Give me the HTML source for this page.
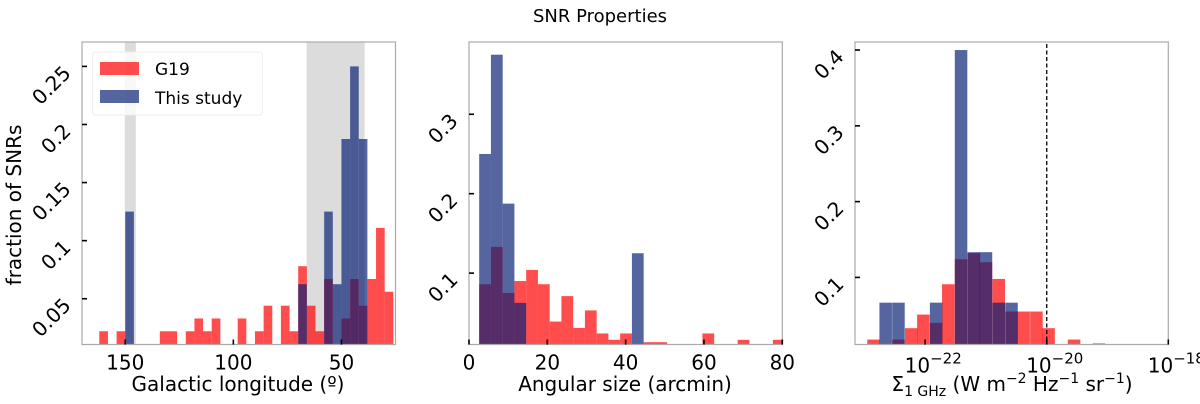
<!DOCTYPE html>
<html><head><meta charset="utf-8"><style>
html,body{margin:0;padding:0;background:#fff;}
svg{display:block;font-family:"DejaVu Sans","Liberation Sans",sans-serif;}
</style></head><body>
<svg id="fig" width="1200" height="404" viewBox="0 0 1200 404" xmlns="http://www.w3.org/2000/svg">
<text x="600" y="22" font-size="18" text-anchor="middle">SNR Properties</text>
<g id="p1"></g>
<g id="p2"></g>
<g id="p3"></g>
</svg>
<script>
// Panel 1: Galactic longitude (bin width 4 deg), values are fractions
const lonBinWidth = 4;
const lonRedCenters = [168,160,156,152,132,128,120,116,112,108,104,100,96,92,88,84,80,76,72,68,64,60,56,48,44,40,36,32,28];
const lonRedValues  = [0.011,0.022,0.011,0.022,0.022,0.022,0.022,0.033,0.022,0.033,0.011,0.011,0.033,0.011,0.022,0.044,0.011,0.044,0.022,0.078,0.044,0.022,0.067,0.033,0.067,0.044,0.067,0.111,0.056];
const lonBlueCenters = [148,68,56,52,48,44,40];
const lonBlueValues  = [0.125,0.0625,0.125,0.0625,0.1875,0.25,0.1875];
const lonSpans = [[150.2,145.1],[66.1,39.3]];
const lonTicks = [150,100,50];
const lonTickLabels = ["150","100","50"];
const p1YTicks = [0.05,0.1,0.15,0.2,0.25];
const p1YTickLabels = ["0.05","0.1","0.15","0.2","0.25"];

// Panel 2: Angular size (bin width 3 arcmin)
const sizeBinWidth = 3;
const sizeRedCenters = [4.1,7.1,10.1,13.1,16.1,19.1,22.1,25.1,28.1,31.1,34.1,37.1,40.1,46.1,49.1,61.1,70.1,79.1];
const sizeRedValues  = [0.086,0.133,0.075,0.09,0.104,0.086,0.039,0.071,0.031,0.053,0.024,0.016,0.024,0.013,0.013,0.024,0.016,0.016];
const sizeBlueCenters = [4.1,7.1,10.1,13.1,43.1];
const sizeBlueValues  = [0.25,0.375,0.1875,0.0625,0.125];
const sizeTicks = [0,20,40,60,80];
const sizeTickLabels = ["0","20","40","60","80"];
const p2YTicks = [0.1,0.2,0.3];
const p2YTickLabels = ["0.1","0.2","0.3"];

// Panel 3: log10 surface brightness (bin width 0.206 dex)
const sbBinWidth = 0.206;
const sbRedCenters = [-22.85,-22.44,-22.23,-22.03,-21.82,-21.62,-21.41,-21.2,-21.0,-20.79,-20.58,-20.38,-20.17,-19.97,-19.76,-19.55,-19.14];
const sbRedValues  = [0.018,0.018,0.033,0.051,0.04,0.091,0.124,0.132,0.12,0.098,0.055,0.055,0.055,0.033,0.012,0.018,0.013];
const sbBlueCenters = [-22.65,-22.44,-21.82,-21.41,-21.2,-21.0,-20.79,-20.58];
const sbBlueValues  = [0.0667,0.0667,0.0667,0.4,0.1333,0.1333,0.0667,0.0667];
const sbTicks = [-22,-20,-18];
const sbTickExps = ["\u221222","\u221220","\u221218"];
const sbThreshold = -20;
const p3YTicks = [0.1,0.2,0.3,0.4];
const p3YTickLabels = ["0.1","0.2","0.3","0.4"];

const NS = "http://www.w3.org/2000/svg";
function mk(parent, tag, attrs){ const e=document.createElementNS(NS,tag); for(const k in attrs) e.setAttribute(k,attrs[k]); parent.appendChild(e); return e; }
function scale(d0,d1,r0,r1){ return v => r0 + (v-d0)/(d1-d0)*(r1-r0); }

function panel(g, box, xdom, ydom){
  const sx = scale(xdom[0],xdom[1],box.l,box.r);
  const sy = scale(ydom[0],ydom[1],box.b,box.t);
  return {sx,sy};
}
function clipRect(g,id,box){
  const cp = mk(g,'clipPath',{id:id});
  mk(cp,'rect',{x:box.l,y:box.t,width:box.r-box.l,height:box.b-box.t});
}
function bars(g, ax, centers, values, width, color, op, name, box, clip){
  centers.forEach((c,i)=>{
    const x0 = ax.sx(c-width/2), x1 = ax.sx(c+width/2);
    const y = ax.sy(values[i]);
    const r = mk(g,'rect',{x:Math.min(x0,x1),y:y,width:Math.abs(x1-x0),height:Math.max(0,box.b-y),fill:color,'fill-opacity':op,'clip-path':'url(#'+clip+')'});
    
    
  });
}
function frame(g, box){
  const f = mk(g,'rect',{x:box.l,y:box.t,width:box.r-box.l,height:box.b-box.t,fill:'none',stroke:'#aaaaaa','stroke-width':1.2});
  
  
}
function yticks(g, ax, box, ticks, labels){
  ticks.forEach((t,i)=>{
    const y = ax.sy(t);
    const tk = mk(g,'line',{x1:box.l,x2:box.l+5,y1:y,y2:y,stroke:'#000','stroke-width':1.6});
    
    
    const ax0 = box.l-15, ay0 = y+3;
    const tx = mk(g,'text',{x:ax0,y:ay0,'font-size':20,'text-anchor':'end','dominant-baseline':'central',transform:'rotate(-45 '+ax0+' '+ay0+')'});
    tx.textContent = labels[i];
    
    
  });
}
function xticks(g, ax, box, ticks, labels){
  ticks.forEach((t,i)=>{
    const x = ax.sx(t);
    const tk = mk(g,'line',{x1:x,x2:x,y1:box.b,y2:box.b-5,stroke:'#000','stroke-width':1.6});
    
    
    if(labels){
      const tx = mk(g,'text',{x:x,y:box.b+25,'font-size':20,'text-anchor':'middle'});
      tx.textContent = labels[i];
      
      
    }
  });
}
const RED = '#ff0000', BLUE = '#071e74';

// ---- Panel 1
(function(){
  const g = document.getElementById('p1');
  const box = {l:82,r:395.5,t:42,b:344.5};
  const ax = panel(g, box, [170,25], [0.0106,0.271]);
  clipRect(g,'c1',box);
  lonSpans.forEach(s=>{
    const x0=ax.sx(s[0]), x1=ax.sx(s[1]);
    const r = mk(g,'rect',{x:x0,y:box.t,width:x1-x0,height:box.b-box.t,fill:'#dcdcdc'});
    
    
  });
  bars(g, ax, lonRedCenters, lonRedValues, lonBinWidth, RED, 0.7, 'g19', box, 'c1');
  bars(g, ax, lonBlueCenters, lonBlueValues, lonBinWidth, BLUE, 0.685, 'this-study', box, 'c1');
  frame(g, box);
  yticks(g, ax, box, p1YTicks, p1YTickLabels);
  xticks(g, ax, box, lonTicks, lonTickLabels);
  const xt = mk(g,'text',{x:238,y:391,'font-size':20,'text-anchor':'middle'});
  xt.textContent = 'Galactic longitude (\u00BA)';
  
  
  const yt = mk(g,'text',{x:0,y:0,'font-size':20,'text-anchor':'middle',transform:'translate(21 205) rotate(-90)'});
  yt.textContent = 'fraction of SNRs';
  
  
  // legend
  const lg = mk(g,'g',{});
  
  
  mk(lg,'rect',{x:92.5,y:52,width:170,height:63,rx:3,fill:'#ffffff','fill-opacity':0.8,stroke:'#eeeeee'});
  const e1 = mk(lg,'rect',{x:100,y:62,width:39,height:13,fill:RED,'fill-opacity':0.7});
  
  
  const e2 = mk(lg,'rect',{x:100,y:90,width:39,height:13,fill:BLUE,'fill-opacity':0.685});
  
  
  const t1 = mk(lg,'text',{x:155,y:75,'font-size':17}); t1.textContent='G19';
  
  
  const t2 = mk(lg,'text',{x:155,y:104,'font-size':17}); t2.textContent='This study';
  
  
})();

// ---- Panel 2
(function(){
  const g = document.getElementById('p2');
  const box = {l:469,r:782.3,t:42,b:344.5};
  const ax = panel(g, box, [0,80], [0.0101,0.391]);
  clipRect(g,'c2',box);
  bars(g, ax, sizeRedCenters, sizeRedValues, sizeBinWidth, RED, 0.7, 'g19', box, 'c2');
  bars(g, ax, sizeBlueCenters, sizeBlueValues, sizeBinWidth, BLUE, 0.685, 'this-study', box, 'c2');
  frame(g, box);
  yticks(g, ax, box, p2YTicks, p2YTickLabels);
  xticks(g, ax, box, sizeTicks, sizeTickLabels);
  const xt = mk(g,'text',{x:625,y:391,'font-size':20,'text-anchor':'middle'});
  xt.textContent = 'Angular size (arcmin)';
  
  
})();

// ---- Panel 3
(function(){
  const g = document.getElementById('p3');
  const box = {l:855,r:1168.3,t:42,b:344.5};
  const ax = panel(g, box, [-23.155,-18], [0.0115,0.4106]);
  clipRect(g,'c3',box);
  bars(g, ax, sbRedCenters, sbRedValues, sbBinWidth, RED, 0.7, 'g19', box, 'c3');
  bars(g, ax, sbBlueCenters, sbBlueValues, sbBinWidth, BLUE, 0.685, 'this-study', box, 'c3');
  const xl = ax.sx(sbThreshold);
  const dl = mk(g,'line',{x1:xl,x2:xl,y1:box.t+2,y2:box.b,stroke:'#000','stroke-width':1.3,'stroke-dasharray':'4,2.5'});
  
  
  frame(g, box);
  yticks(g, ax, box, p3YTicks, p3YTickLabels);
  xticks(g, ax, box, sbTicks, null);
  sbTicks.forEach((t,i)=>{
    const x = ax.sx(t);
    const tx = mk(g,'text',{x:x+8,y:box.b+28,'font-size':20,'text-anchor':'middle'});
    
    
    const a = document.createElementNS(NS,'tspan'); a.textContent='10'; tx.appendChild(a);
    const b = document.createElementNS(NS,'tspan'); b.setAttribute('dy','-9'); b.setAttribute('font-size','15'); b.textContent=sbTickExps[i]; tx.appendChild(b);
  });
  const xt = mk(g,'text',{x:1012,y:391,'font-size':20,'text-anchor':'middle'});
  
  
  const parts = [['\u03A3',0,20],['1 GHz',5,14],[' (W m',-5,20],['\u22122',-8,14],[' Hz',8,20],['\u22121',-8,14],[' sr',8,20],['\u22121',-8,14],[')',8,20]];
  parts.forEach(p=>{ const s=document.createElementNS(NS,'tspan'); s.setAttribute('dy',p[1]); s.setAttribute('font-size',p[2]); s.textContent=p[0]; xt.appendChild(s); });
})();
</script>
</body></html>
